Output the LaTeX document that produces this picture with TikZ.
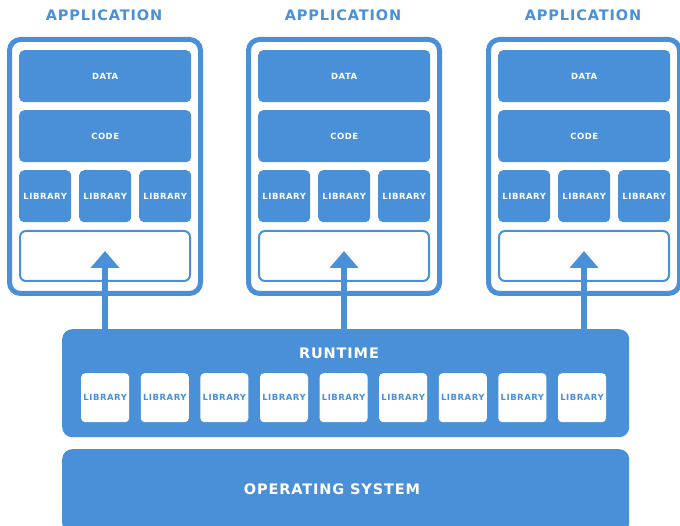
\documentclass[tikz,border=0pt]{standalone}
\usepackage{fontspec}
\setmainfont{DejaVu Sans}
\newfontfamily\spacedfont{DejaVu Sans}[LetterSpace=6]
\usetikzlibrary{arrows.meta}
\definecolor{appblue}{RGB}{74,144,217}
\tikzset{
  blk/.style={fill=appblue, rounded corners=5pt, draw=none, inner sep=0pt, text=white,
    anchor=north west, font=\spacedfont\bfseries\fontsize{8.5}{9}\selectfont},
  frame/.style={draw=appblue, line width=5pt, rounded corners=11pt, fill=white, anchor=north west, inner sep=0pt},
  slot/.style={draw=appblue, line width=2pt, rounded corners=6pt, fill=white, anchor=north west, inner sep=0pt},
  title/.style={text=appblue, font=\spacedfont\bfseries\fontsize{14.5}{16}\selectfont},
  big/.style={fill=appblue, rounded corners=10pt, draw=none, anchor=north west, inner sep=0pt},
  rlib/.style={fill=white, rounded corners=4pt, draw=none, inner sep=0pt, text=appblue,
    anchor=north west, minimum width=48pt, minimum height=49pt, font=\spacedfont\bfseries\fontsize{8.5}{9}\selectfont},
  bigtext/.style={text=white, font=\spacedfont\bfseries\fontsize{14.5}{16}\selectfont},
  uparrow/.style={draw=appblue, line width=6pt, -{Triangle[width=28pt,length=17pt]}}
}
\begin{document}
\begin{tikzpicture}[x=1pt,y=-1pt]
\useasboundingbox (0,0) rectangle (680,526);
% runtime and OS
\node[big, minimum width=567pt, minimum height=108pt] (rt) at (62,329) {};
\node[bigtext] (rtl) at (339,353) {RUNTIME};
\foreach \k in {0,...,8} {
  \node[rlib] (rl\k) at ({81+59.6*\k},373) {LIBRARY};
}
\node[big, minimum width=567pt, minimum height=84pt] (os) at (62,449) {};
\node[bigtext] (osl) at (332,489) {OPERATING SYSTEM};
% applications
\foreach \i/\x in {1/7,2/246,3/486} {
  \node[title] (t\i) at ({\x+97},15.5) {APPLICATION};
  \node[frame, minimum width=191pt, minimum height=254pt] (f\i) at (\x,37) {};
  \node[blk, minimum width=172pt, minimum height=52pt] (d\i) at ({\x+12},50) {DATA};
  \node[blk, minimum width=172pt, minimum height=52pt] (c\i) at ({\x+12},110) {CODE};
  \node[blk, minimum width=52pt, minimum height=52pt] (la\i) at ({\x+12},170) {LIBRARY};
  \node[blk, minimum width=52pt, minimum height=52pt] (lb\i) at ({\x+72},170) {LIBRARY};
  \node[blk, minimum width=52pt, minimum height=52pt] (lc\i) at ({\x+132},170) {LIBRARY};
  \node[slot, minimum width=170pt, minimum height=50pt] (e\i) at ({\x+12},230) {};
  \coordinate (tip\i) at ({\x+98},251);
  \draw[uparrow] (rt.north -| tip\i) -- (tip\i);
}
\end{tikzpicture}
\end{document}
